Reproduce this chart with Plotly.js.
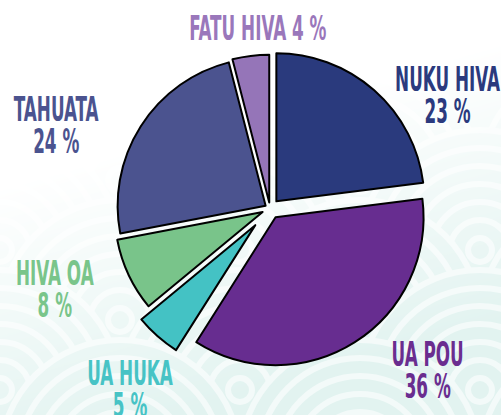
<!DOCTYPE html>
<html>
<head>
<meta charset="utf-8">
<script src="https://cdn.plot.ly/plotly-3.0.1.min.js"></script>
<style>
  html, body { margin: 0; padding: 0; background: #ffffff; }
  #chart { width: 501px; height: 415px; }
</style>
</head>
<body>
<div id="chart"></div>
<script>
// ---- data ----
const islands = ['NUKU HIVA', 'UA POU', 'UA HUKA', 'HIVA OA', 'TAHUATA', 'FATU HIVA'];
const shares = [23, 36, 5, 8, 24, 4];
const sliceColors = ['#2a3a7d', '#672d90', '#44c2c4', '#79c48a', '#4b538f', '#9575b8'];
const labelColors = ['#2b3a7e', '#6a2d8f', '#47c3c5', '#79c58a', '#4b538f', '#9a77bb'];
const pulls = [0.065, 0.07, 0.15, 0.055, 0.035, 0.04];

// ---- label layout (pixel centre x, first-line cap centre y) ----
const W = 501, H = 415;
const FS = 34;            // font size
const LINE_PX = 32;       // line pitch wanted
const SCALE_X = 0.55;     // horizontal condensing of label text
const labelPos = [
  {x: 447, y: 77, multi: true},    // NUKU HIVA
  {x: 427, y: 352, multi: true},   // UA POU
  {x: 130, y: 371, multi: true},   // UA HUKA
  {x: 55, y: 271, multi: true},    // HIVA OA
  {x: 56, y: 107, multi: true},    // TAHUATA
  {x: 258, y: 26, multi: false}    // FATU HIVA (single line)
];

const FONT = '"Liberation Sans Narrow", "DejaVu Sans Condensed", "Liberation Sans", sans-serif';
const CAP_OFFSET = 20; // px from box top to first-line cap centre
const annotations = islands.map((name, i) => {
  const p = labelPos[i];
  const pct = shares[i] + ' %';
  return {
    xref: 'paper', yref: 'paper', showarrow: false,
    xanchor: 'center', yanchor: 'top',
    x: p.x / W, y: 1 - (p.y - CAP_OFFSET) / H,
    text: p.multi ? name + '<br>' + pct : name + ' ' + pct,
    font: {family: FONT, size: FS, color: labelColors[i], weight: 700}
  };
});

// ---- decorative seigaiha background (svg data uri) ----
function seigaiha() {
  let s = '<svg xmlns="http://www.w3.org/2000/svg" width="501" height="415" viewBox="0 0 501 415">';
  s += '<defs><linearGradient id="g" x1="0" y1="0" x2="0.35" y2="1">' +
       '<stop offset="0" stop-color="#fff" stop-opacity="0"/>' +
       '<stop offset="0.4" stop-color="#fff" stop-opacity="0"/>' +
       '<stop offset="1" stop-color="#fff" stop-opacity="1"/></linearGradient>' +
       '<mask id="m"><rect width="501" height="415" fill="url(#g)"/></mask></defs>';
  s += '<rect width="501" height="415" fill="#ffffff"/>';
  s += '<g mask="url(#m)">';
  s += '<rect width="501" height="415" fill="#e2f3f0"/>';
  const R = 120, step = 18;
  for (let row = 0; row < 5; row++) {
    const cy = 180 + row * 70;
    const off = (row % 2) ? R : 0;
    for (let cx = -R + off; cx < 501 + R; cx += 2 * R) {
      for (let r = R; r > 10; r -= step) {
        s += '<circle cx="' + cx + '" cy="' + cy + '" r="' + r + '" fill="' + (r === R ? '#e2f3f0' : 'none') +
             '" stroke="#f3faf9" stroke-width="6"/>';
      }
    }
  }
  s += '</g></svg>';
  return 'data:image/svg+xml;base64,' + btoa(s);
}

const data = [{
  type: 'pie',
  labels: islands,
  values: shares,
  sort: false,
  direction: 'clockwise',
  rotation: 0,
  pull: pulls,
  marker: {colors: sliceColors, line: {color: '#000000', width: 2}},
  textinfo: 'none',
  hoverinfo: 'none',
  showlegend: false,
  domain: {x: [0.1992, 0.8786], y: [0.0875, 0.9077]}
}];

const layout = {
  width: W, height: H,
  margin: {l: 0, r: 0, t: 0, b: 0},
  paper_bgcolor: 'rgba(0,0,0,0)',
  plot_bgcolor: 'rgba(0,0,0,0)',
  showlegend: false,
  annotations: annotations,
  images: [{source: seigaiha(), xref: 'paper', yref: 'paper', x: 0, y: 1,
    sizex: 1, sizey: 1, xanchor: 'left', yanchor: 'top', sizing: 'stretch', layer: 'below'}]
};

Plotly.newPlot('chart', data, layout, {staticPlot: true, displayModeBar: false}).then(gd => {
  const ratio = LINE_PX / FS;
  gd.querySelectorAll('.annotation-text-g text.annotation-text').forEach(t => {
    t.querySelectorAll('tspan.line').forEach((ts, k) => {
      ts.setAttribute('dy', (k * ratio) + 'em');
    });
    const bb = t.getBBox();
    const cx = bb.x + bb.width / 2;
    t.setAttribute('transform', 'translate(' + cx + ',0) scale(' + SCALE_X + ',1) translate(' + (-cx) + ',0)');
  });
});
</script>
</body>
</html>
